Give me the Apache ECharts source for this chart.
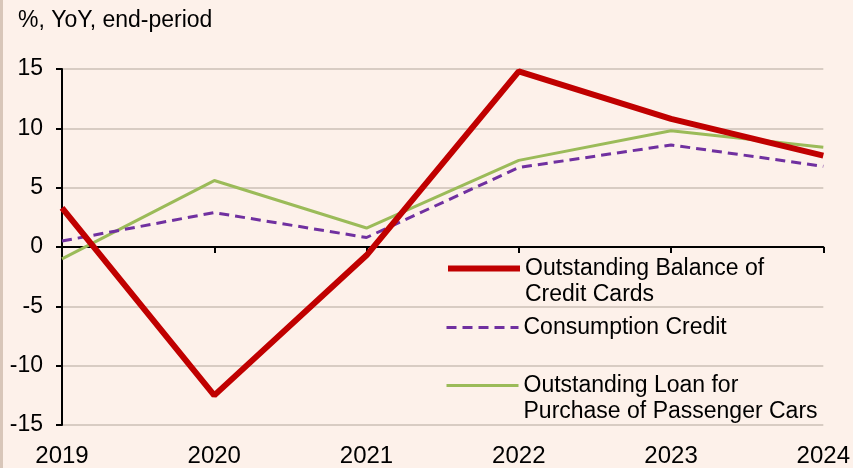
<!DOCTYPE html>
<html>
<head>
<meta charset="utf-8">
<script src="https://cdn.jsdelivr.net/npm/echarts@6/dist/echarts.min.js"></script>
<style>
  html, body { margin: 0; padding: 0; background: #fdf1ea; }
  #chart { width: 853px; height: 468px; }
</style>
</head>
<body>
<div id="chart"></div>
<script>
// 数据
var years = ['2019', '2020', '2021', '2022', '2023', '2024'];
var creditCards = [3.3, -12.5, -0.7, 14.8, 10.8, 7.7];
var consumption = [0.5, 2.9, 0.8, 6.7, 8.6, 6.8];
var carLoans = [-1.0, 5.6, 1.6, 7.3, 9.8, 8.4];

var names = [
    'Outstanding Balance of Credit Cards',
    'Consumption Credit',
    'Outstanding Loan for Purchase of Passenger Cars'
];
var legendText = {};
legendText[names[0]] = '{s| }\n{t|Outstanding Balance of}\n{t|Credit Cards}';
legendText[names[1]] = '{t|Consumption Credit}';
legendText[names[2]] = '{s| }\n{t|Outstanding Loan for}\n{t|Purchase of Passenger Cars}';

var font = 'Liberation Sans, Arial, sans-serif';

var myChart = echarts.init(document.getElementById('chart'));

//图例
function makeLegend(name, top, lineStyle) {
    return {
        data: [name],
        left: 445,
        top: top,
        padding: 0,
        itemWidth: 72,
        itemHeight: 8,
        itemGap: 0,
        itemStyle: { opacity: 0 },
        lineStyle: lineStyle,
        formatter: function(n) { return legendText[n]; },
        textStyle: {
            rich: {
                s: { fontSize: 23, lineHeight: 26, fontFamily: font },
                t: { fontSize: 23, lineHeight: 26, color: '#000', fontFamily: font }
            }
        }
    };
}

var option = {
    backgroundColor: '#fdf1ea',
    animation: false,
    title: {
        text: '%, YoY, end-period',
        left: 13,
        top: 4,
        textStyle: { fontSize: 23, fontWeight: 'normal', color: '#000', fontFamily: font }
    },
    graphic: [{
        type: 'rect',
        shape: { x: 0, y: 0, width: 3, height: 468 },
        style: { fill: '#d8c6b9' }
    }],
    legend: [
        makeLegend(names[0], 231, { width: 6, type: 'solid' }),
        makeLegend(names[1], 316, { width: 3, type: [10, 6] }),
        makeLegend(names[2], 348, { width: 3, type: 'solid' })
    ],
    grid: { left: 62, right: 27, top: 69, bottom: 41 },
    xAxis: [{
        type: 'category',
        data: years,
        boundaryGap: false,
        axisLine: { onZero: true, lineStyle: { color: '#000', width: 2 } },
        axisTick: { show: true, length: 6, lineStyle: { color: '#000', width: 2 } },
        axisLabel: { show: false },
        splitLine: { show: false }
    }, {
        type: 'category',
        data: years,
        boundaryGap: false,
        position: 'bottom',
        axisLine: { show: false, onZero: false },
        axisTick: { show: false },
        axisLabel: { margin: 19, fontSize: 24, color: '#000', fontFamily: font },
        splitLine: { show: false }
    }],
    yAxis: {
        type: 'value',
        min: -15,
        max: 15,
        interval: 5,
        axisLine: { show: true, lineStyle: { color: '#000', width: 2 } },
        axisTick: { show: true, length: 6, lineStyle: { color: '#000', width: 2 } },
        axisLabel: { margin: 19, fontSize: 23, color: '#000', fontFamily: font },
        splitLine: { lineStyle: { color: '#cbbfb6', width: 1.5 } }
    },
    series: [{
        name: names[0],
        type: 'line',
        data: creditCards,
        symbol: 'none',
        z: 4,
        lineStyle: { color: '#c00000', width: 6 },
        itemStyle: { color: '#c00000' }
    }, {
        name: names[1],
        type: 'line',
        data: consumption,
        symbol: 'none',
        z: 3,
        lineStyle: { color: '#7030a0', width: 3, type: [10, 6] },
        itemStyle: { color: '#7030a0' }
    }, {
        name: names[2],
        type: 'line',
        data: carLoans,
        symbol: 'none',
        z: 2,
        lineStyle: { color: '#9bbb59', width: 3 },
        itemStyle: { color: '#9bbb59' }
    }]
};

myChart.setOption(option);
</script>
</body>
</html>
